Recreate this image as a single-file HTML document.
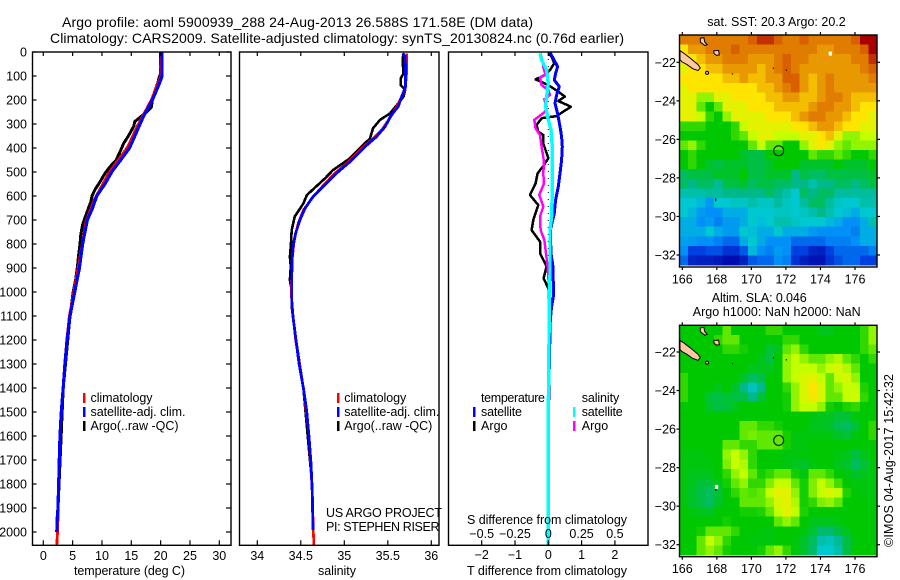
<!DOCTYPE html>
<html><head><meta charset="utf-8"><title>Argo profile</title>
<style>
html,body{margin:0;padding:0;background:#fff;width:900px;height:580px;overflow:hidden}
svg{display:block}
text{font-family:"Liberation Sans",sans-serif;font-size:12.5px;fill:#000}
</style></head>
<body>
<svg id="fig" width="900" height="580" viewBox="0 0 900 580" xmlns="http://www.w3.org/2000/svg">
<rect width="900" height="580" fill="#fff"/>
<text x="62" y="27" textLength="471" style="font-size:14px">Argo profile: aoml 5900939_288 24-Aug-2013 26.588S 171.58E (DM data)</text>
<text x="50" y="43" textLength="574" style="font-size:14px">Climatology: CARS2009. Satellite-adjusted climatology: synTS_20130824.nc (0.76d earlier)</text>
<g id="layer-maps"></g>
<g id="layer-series"></g>
<g id="layer-axes"></g>

<text x="74" y="575" textLength="111">temperature (deg C)</text>
<text x="318" y="575" textLength="38">salinity</text>
<text x="467" y="575" textLength="160">T difference from climatology</text>
<text x="467" y="524" textLength="160">S difference from climatology</text>

<g>
<rect x="83" y="393" width="2.5" height="10" fill="#f00"/>
<rect x="83" y="407" width="2.5" height="10" fill="#00f"/>
<rect x="83" y="421" width="2.5" height="10" fill="#000"/>
<text x="90.5" y="402" textLength="62">climatology</text>
<text x="90.5" y="416" textLength="95">satellite-adj. clim.</text>
<text x="90.5" y="430" textLength="88">Argo(..raw -QC)</text>
</g>
<g>
<rect x="337" y="393" width="2.5" height="10" fill="#f00"/>
<rect x="337" y="407" width="2.5" height="10" fill="#00f"/>
<rect x="337" y="421" width="2.5" height="10" fill="#000"/>
<text x="344.3" y="402" textLength="62">climatology</text>
<text x="344.3" y="416" textLength="95">satellite-adj. clim.</text>
<text x="344.3" y="430" textLength="88">Argo(..raw -QC)</text>
</g>
<g>
<text x="481" y="402" textLength="64">temperature</text>
<text x="481" y="416" textLength="41">satellite</text>
<text x="481" y="430" textLength="26.5">Argo</text>
<rect x="473" y="407" width="2.5" height="10" fill="#00f"/>
<rect x="473" y="421" width="2.5" height="10" fill="#000"/>
<text x="581.7" y="402" textLength="37.5">salinity</text>
<text x="581.7" y="416" textLength="41">satellite</text>
<text x="581.7" y="430" textLength="26.5">Argo</text>
<rect x="573" y="407" width="2.5" height="10" fill="#0ff"/>
<rect x="573" y="421" width="2.5" height="10" fill="#f0f"/>
</g>
<text x="326" y="517" textLength="116">US ARGO PROJECT</text>
<text x="326" y="531" textLength="113.5">PI: STEPHEN RISER</text>
<text x="707.3" y="26" textLength="138.4">sat. SST: 20.3 Argo: 20.2</text>
<text x="711.7" y="302" textLength="95">Altim. SLA: 0.046</text>
<text x="692.7" y="316" textLength="168">Argo h1000: NaN h2000: NaN</text>
<text transform="translate(893 547) rotate(-90)" x="0" y="0" textLength="173">©IMOS 04-Aug-2017 15:42:32</text>
</svg>

<script>
// ---------- axis tick labels ----------
const depthTicks = [0,100,200,300,400,500,600,700,800,900,1000,1100,1200,1300,1400,1500,1600,1700,1800,1900,2000];
const temperatureTicks = [0,5,10,15,20,25,30];
const salinityTicks = [34,34.5,35,35.5,36];
const tDiffTicks = [-2,-1,0,1,2];
const sDiffTicks = [-0.5,-0.25,0,0.25,0.5];
const lonTicks = [166,168,170,172,174,176];
const latTicks = [-22,-24,-26,-28,-30,-32];

// ---------- temperature panel (deg C) ----------
const tempSatDepth = [0,100,130,200,270,300,400,450,500,550,600,650,700,800,900,1000,1100,1200,1300,1400,1500,1600,1700,1800,1900,1950,2000];
const tempSat = [20.2,20.25,19.8,18.6,17.05,16.5,14.7,13.2,11.65,10.5,9.1,8.4,7.5,6.7,6.15,5.35,4.55,4.05,3.7,3.4,3.07,2.85,2.73,2.62,2.5,2.35,2.3];
const tempClimDepth = [0,60,100,200,310,395,505,615,705,840,1000,1100,1200,1300,1400,1500,1600,1700,1800,1900,1950,2000,2055];
const tempClim = [20.15,20.0,20.05,18.4,16.0,14.4,11.15,8.7,7.3,6.35,5.2,4.45,4.0,3.65,3.37,3.05,2.85,2.73,2.62,2.52,2.48,2.42,2.3];
const tempArgoDepth = [0,50,90,110,130,170,200,230,250,270,290,310,350,380,420,450,480,510,540,570,600,625,650,690,720,760,800,850,900,950,1000,1100,1400,1900];
const tempArgo = [20.0,20.0,20.0,19.7,19.5,18.9,18.6,18.4,17.6,16.6,15.6,15.4,14.5,13.7,13.0,12.4,11.3,10.4,9.7,8.9,8.3,8.1,7.7,7.1,6.7,6.4,6.25,6.0,5.8,5.5,5.1,4.55,3.4,2.5];

// ---------- salinity panel ----------
const salSatDepth = [6,19,89,144,186,228,262,311,353,394,457,512,561,603,651,700,756,811,867,950,1033,1103,1200,1300,1400,1492,1603,1714,1839,1992];
const salSat = [35.67,35.70,35.705,35.705,35.66,35.62,35.54,35.47,35.37,35.24,35.065,34.89,34.76,34.64,34.55,34.49,34.44,34.41,34.40,34.395,34.395,34.41,34.445,34.48,34.53,34.567,34.594,34.617,34.632,34.64];
const salClimDepth = [6,89,158,200,256,325,367,408,457,506,547,596,658,714,783,867,1006,1061,1200,1400,1600,1840,2000,2055];
const salClim = [35.72,35.716,35.70,35.64,35.56,35.43,35.31,35.18,35.05,34.89,34.78,34.66,34.53,34.47,34.425,34.40,34.39,34.40,34.44,34.53,34.594,34.632,34.645,34.65];
const salArgoDepth = [6,33,89,110,138,158,186,214,256,283,318,360,401,447,492,526,596,631,686,742,811,853,894,950,992,1061,1200,1400,1800];
const salArgo = [35.68,35.67,35.68,35.65,35.65,35.70,35.68,35.62,35.525,35.41,35.33,35.295,35.18,35.05,34.87,34.78,34.57,34.53,34.43,34.395,34.385,34.375,34.385,34.375,34.395,34.395,34.445,34.53,34.63];

// ---------- difference panel ----------
const dTSatDepth = [3,19,61,89,117,144,179,214,256,311,353,394,450,506,561,617,672,707,742,839,894,964,1019,1061,1117,1300,1450];
const dTSat = [0.05,0.12,0.28,0.22,0.18,0.33,0.25,0.20,0.28,0.35,0.40,0.42,0.40,0.35,0.30,0.22,0.18,0.12,0.06,0.08,0.14,0.15,0.15,0.10,0.06,0.03,0.02];
const dTArgoDepth = [6,19,47,75,96,114,138,165,186,204,228,267,276,304,332,346,381,443,475,506,547,596,638,700,742,790,839,894,943,985,1033,1100,1200,1400,1950];
const dTArgo = [0,0.10,0.18,0.05,-0.10,-0.38,0,0.30,0.50,0.30,0.68,0.25,-0.20,-0.35,-0.30,-0.15,-0.15,0,-0.15,-0.32,-0.38,-0.55,-0.30,-0.45,-0.50,-0.25,-0.25,-0.05,-0.14,0,0.06,0.04,0.02,0,0];
const dSArgoDepth = [6,33,68,96,106,138,158,179,197,228,249,283,318,346,394,457,506,547,596,644,686,742,783,839,894,978,1100,1950];
const dSArgo = [-0.058,-0.045,-0.035,-0.02,-0.0625,-0.05,0,0.0125,-0.03,-0.0125,-0.025,-0.105,-0.095,-0.0625,-0.05,-0.0325,-0.0375,-0.0325,-0.0675,-0.0375,-0.0625,-0.0575,-0.03,-0.0175,-0.005,0.005,0.002,0];
const dSSatDepth = [6,33,75,131,186,228,283,325,394,478,575,686,742,922,1061,1200,1500,2055];
const dSSat = [-0.0625,-0.05,-0.0125,0,-0.0125,-0.02,0,0.02,0.03,0.03,0.03,0.025,0.0125,0.0125,0.0075,0.005,0,0];

// ---------- SST map, colour level per cell ----------
const sstGrid = [
[9.5,9.5,9.5,9.5,9.5,9.5,9.5,9.5,10,10.5,10.5,10,9.5,9.5,10,9.5,9.5,9.5,9.5,9.5,10,11,11],
[8,9,9,9.5,9.5,9.5,10,9.5,9.5,9.5,9.5,9.5,9.5,9.5,9.5,9.5,9,9,9.5,9.5,9.5,10,11],
[8,8,8.5,9,9,9.5,9.5,9.5,9,9,9,9.5,10,9.5,9.5,9,9,9,9,9,9.5,9.5,10.5],
[7.5,8,8,8.5,8.5,9,9,9,9,8.5,9,9.5,10,9.5,9,9,9,9,9,9,9,9.5,10],
[8,8,8,8,8,8.5,8.5,9,8.5,8.5,9,9,10,10,9,8.5,9,9.5,9,9,9,9,9.5],
[7.5,8,8,8,8,8,8,8,8,8.5,8.5,9,9.5,10,9,8.5,9,9.5,9,9,9,9,9],
[7.5,7.5,6.5,6.5,7.5,7.5,8,8,8,8,8.5,8.5,9,9,8.5,8.5,9,9.5,9.5,9,8.5,8.5,8.5],
[7.5,7.5,6,5,6,7.5,7.5,7.5,8,8,8,8.5,8.5,8.5,8.5,9,9.5,9.5,9,9,8.5,8,8],
[7.5,7.5,7,5.5,5,6.5,7.5,7.5,7.5,7.5,8,8,8,8.5,9,9.5,9.5,9,9,8.5,8,8,7.5],
[5.5,5.5,5.5,5,5,5,5.5,7,7.5,7.5,7.5,7.5,7.5,8,8,8.5,9,9,8.5,8,8,7.5,7.5],
[5,5,5,5,5,5,5.5,6,7,7.5,7.5,7,7,7,7.5,7.5,8,8.5,7.5,6.5,6.5,7,7],
[6,6.5,5.5,5,5,5,5,5,6,7,6,6,5,5,6.5,7.5,8,7.5,6.5,6,6.5,6.5,6.5],
[5,5.5,5,5,5,5,5,4.7,4.5,4.5,5,5,5,5,5,6,5.5,5.5,6,5.5,5,5,5.5],
[5,5.5,5,4.7,4.5,4.7,4.7,4.7,4.5,4.5,4.7,5,5,5,4.7,4.7,4.7,4.7,5,4.7,4.7,4.7,5],
[4.3,4.5,4.5,4.5,4.7,4.7,4.7,5,4.5,4.5,4.7,4.7,4.7,4,4.5,4.3,4.3,4.5,4.5,4.5,4.5,4.5,4.7],
[4.3,4,4.3,4.3,3.8,4.5,4.5,4.7,4.3,4.5,4.5,4.3,4.3,4,4,3.5,4,4,4.3,4.3,4,4.3,4.5],
[3.5,3.5,3.5,3.7,3.7,4,4,4,4,4,4.3,4,3.5,3,4.3,4,4.3,4.3,3.7,3.7,3.7,3.7,3.7],
[3,3,2.7,2.2,3,3,3.2,3.2,3.5,3.2,3.2,3.7,3.2,3,3.7,4.3,4.3,3.7,3.2,3,3,3.5,3.5],
[3,2.7,2.2,2,2,2.5,2.5,2.5,3,3,3,3.2,3.2,3,3.2,3.5,4,3.5,3,2.8,2.5,3,3],
[2.5,2.5,2,2.2,1.8,2.2,2.2,2.5,3,2.8,3,3.5,3.5,3.2,3,3,3,2.7,2.5,2,2,2.5,3.5],
[2.5,2.5,2.5,3,2.5,2.2,2.2,3,2.8,2.5,2.5,3,2.5,2.5,2.5,2.2,2,2,2,2,1.8,2.5,2.5],
[2.3,2.2,2,2,1.8,1.5,1.5,2.5,3,2.5,2,2,2,1.5,1.5,1.5,1.5,1.8,1.8,1.8,2,2.5,2.5],
[2,1,1,1.2,1.2,0.8,0.8,1.3,2.7,2,1.8,2.2,2,1,1,0.6,0.5,1,1.5,1.5,1.5,1.5,1.8],
[1.5,0.6,0.5,0.5,0.4,0.2,0.2,0.5,1.3,1.5,1.5,2,1.8,0.8,0.5,0.3,0.3,0.8,1.2,1.5,1.5,1,1]
];
// ---------- SLA map, colour level per cell ----------
const slaGrid = [
[5,5,5,5,5,6,5,5,5,5,5.5,5.5,5,5,5,5,4.8,4.8,5,5,5,5.5,6.5],
[5,5,5,5,5.5,6,6,5,5,5,5,5,5.5,5.5,5,5,5,5,5,5,5,5.5,6.5],
[5,5,5,5,5,5.5,5.5,5.2,5,5,4.6,4.8,6,6.5,5.5,5,5,5,5,5,5,5.5,6],
[5,5,5,5,5,5,5,5,5,4.8,4.5,5,6.5,7,6.5,6,6,6.5,6.8,6,5.5,5,5.5],
[5,5,5,5,5,5,5,5,4.8,4.8,4.8,5,6.5,7,7,7,6.5,7,7.3,6.8,6,5,5],
[5.5,5,5,5,5,5,5,4.7,4.3,4.5,5,5,6.5,7,7.3,7.5,7,6,7,7.3,6.5,5,5],
[5.5,5,5,5,4.8,5,4.7,4,3.3,4,5,5,5.5,6.5,7.3,8,7.3,6,6.5,7,7,5.3,5],
[5.5,5,5,4.6,4.5,4.6,4.5,4.5,4,4.6,5,5,5.2,6.5,7.3,7.8,7.3,6,6,7,7.2,5.5,5],
[5,5,5,4.7,4.5,4.6,4.8,5,5,5,5,5,5.2,6.5,7,7,6.5,5.2,5,5.3,5.5,5,5],
[5,5,5,5,5,5,5,5,5,5,5,5,5,5,5,4.9,4.8,4.8,4.6,4.6,4.9,5,5],
[5,5,5,5,5,5,5,6,6,5.5,5.5,5.2,5,5,5,4.8,4.8,4.7,4.4,4.3,4.6,5,5.5],
[5,5,5,5,5,5,5,6,6.2,6,6,6,5.2,4.9,4.9,4.9,4.9,4.9,4.7,4.6,4.9,5,5.5],
[5,5,5,5,5,6,6,5.5,5.5,6,6,6,5.2,4.9,4.9,5,5,5,5,5,5,5,5],
[4.9,4.9,4.9,5,5,6.5,7,6.5,5.5,5,5,5,4.9,4.9,4.9,5,5,5,4.9,4.8,4.5,4.8,5],
[4.9,4.9,4.9,4.9,5,6.3,7,6.8,5.5,5,5,5,4.9,4.8,4.7,4.9,5,5,4.8,4.7,4.3,4.6,4.9],
[4.9,4.8,4.8,4.8,5,5.5,6.5,7,6,5.2,5.5,6,6,5.2,4.9,6,6,5.5,5,4.9,4.7,4.8,4.9],
[4.9,4.8,4.6,4.6,4.8,5.2,6,6.5,5.5,5.5,6.3,7,7,6,5.2,6.3,7,6.5,5.7,5,4.9,4.9,4.9],
[4.9,4.7,4.5,4.3,4.6,5,5.5,6,5.8,6,7,7.5,7.5,6.5,5.2,6.3,7,7.3,7,5.3,5,4.9,4.9],
[4.9,4.7,4.5,4.3,4.7,5,5,6,6,6,6.5,7.3,7.5,6.8,5.2,5.5,6.3,6.5,6,5,5,5,4.9],
[5,4.9,4.8,4.7,5,5,5,5.2,5.2,5.3,6,7,7.5,7,5.3,5,5,5,5,5,5,5,5],
[5,5,5,5,5,5.2,5,5,5,5,5,6,6.5,6,5,4.8,4.8,4.8,4.9,5,5,5,5],
[5,5,5.2,6,6,6,5.5,5,5,4.9,4.9,5,5,5,4.9,4.6,4.2,4.2,4.5,4.8,5,5,5],
[5,5,6,7,6.5,5.5,5,5,4.9,4.9,4.9,5,5,4.9,4.7,4.3,3.5,3.3,3.8,4.5,4.9,5,5],
[5,5,6,6.5,6,5.2,5,5,5,5.2,6,6.5,5.5,4.9,4.7,4.2,3,3,3.5,4.5,5,5,5]
];
const colourStops = ['#0000a0','#0040e0','#0090f8','#00c8d0','#00b888','#00c800','#60e800','#c4ff00','#ffe400','#e89800','#d86000','#a80000'];

// ---------- map geography (lon, lat) ----------
const caledoniaLon = [165.83,166.08,166.46,166.91,167.04,166.91,166.6,166.27,165.98,165.83];
const caledoniaLat = [-21.40,-21.52,-21.78,-22.12,-22.29,-22.43,-22.33,-22.12,-21.98,-21.87];
const loyaltyLon = [167.04,167.25,167.3,167.45,167.3,167.05];
const loyaltyLat = [-20.75,-20.72,-20.95,-21.08,-21.13,-20.95];
const mareLon = [167.82,168.1,168.14,167.98,167.84];
const mareLat = [-21.4,-21.38,-21.62,-21.64,-21.55];
const islePinesLon = [167.43];
const islePinesLat = [-22.55];
const tinyIslandLon = [168.9,171.27,172.02,167.93];
const tinyIslandLat = [-22.6,-22.3,-22.4,-29.08];
const argoLon = 171.58;
const argoLat = -26.588;

// ---------- scales ----------
const y0 = 52, yPerMetre = 0.24;
const depthY = d => y0 + d * yPerMetre;
const tempX = t => 43.3 + t * 5.867;
const salX = s => 257.3 + (s - 34) * 87;
const dTX = t => 548.3 + t * 33.3;
const dSX = s => 548.3 + s * 133.2;
const lonX = lon => 682.3 + (lon - 166) * 17.27;
const latY = (lat, top) => top + (-22 - lat) * 19.27;

const SVGNS = 'http://www.w3.org/2000/svg';
const mapsLayer = document.getElementById('layer-maps');
const seriesLayer = document.getElementById('layer-series');
const axesLayer = document.getElementById('layer-axes');

function mk(tag, attrs, parent) {
  const el = document.createElementNS(SVGNS, tag);
  for (const k in attrs) el.setAttribute(k, attrs[k]);
  parent.appendChild(el);
  return el;
}
function drawProfile(label, depths, values, xFn, colour, width) {
  const pts = depths.map((d, i) => xFn(values[i]).toFixed(1) + ',' + depthY(d).toFixed(1)).join(' ');
  const el = mk('polyline', {points: pts, fill: 'none', stroke: colour, 'stroke-width': width, 'shape-rendering': 'crispEdges', 'stroke-linejoin': 'round'}, seriesLayer);
  
  
}
function frame(label, x0, x1, yTop, yBot) {
  const el = mk('rect', {x: x0, y: yTop, width: x1 - x0, height: yBot - yTop, fill: 'none', stroke: '#000', 'stroke-width': 1.4}, axesLayer);
  
  
}
function tick(x1, y1, x2, y2) {
  const el = mk('line', {x1, y1, x2, y2, stroke: '#000', 'stroke-width': 1.2}, axesLayer);
  
  
}
function label(txt, x, y, anchor) {
  const el = mk('text', {x, y, 'text-anchor': anchor}, axesLayer);
  el.textContent = txt;
  
  
}

// ---------- profile panels ----------
const yBottom = 545.3;
drawProfile('temperature-argo-line', tempArgoDepth, tempArgo, tempX, '#000', 3);
drawProfile('temperature-climatology-line', tempClimDepth, tempClim, tempX, '#f00', 2.8);
drawProfile('temperature-satellite-line', tempSatDepth, tempSat, tempX, '#00f', 3.2);
drawProfile('salinity-argo-line', salArgoDepth, salArgo, salX, '#000', 2.6);
drawProfile('salinity-climatology-line', salClimDepth, salClim, salX, '#f00', 2.6);
drawProfile('salinity-satellite-line', salSatDepth, salSat, salX, '#00f', 2.8);

const zeroLine = mk('line', {x1: dTX(0), y1: y0, x2: dTX(0), y2: yBottom, stroke: '#000', 'stroke-width': 1, 'stroke-dasharray': '1 6'}, seriesLayer);


drawProfile('t-difference-argo-line', dTArgoDepth, dTArgo, dTX, '#000', 2.5);
drawProfile('t-difference-satellite-line', dTSatDepth, dTSat, dTX, '#00f', 3);
drawProfile('s-difference-argo-line', dSArgoDepth, dSArgo, dSX, '#f0f', 2.5);
drawProfile('s-difference-satellite-line', dSSatDepth, dSSat, dSX, '#0ff', 3.4);

frame('temperature-panel-frame', 32.5, 231, y0, yBottom);
frame('salinity-panel-frame', 239.5, 439, y0, yBottom);
frame('difference-panel-frame', 448.5, 648, y0, yBottom);

depthTicks.forEach(d => {
  const y = depthY(d);
  tick(32.5, y, 36.5, y);
  tick(231, y, 226, y);
  label(String(d), 27, y + 4.5, 'end');
});
temperatureTicks.forEach(t => {
  const x = tempX(t);
  tick(x, y0, x, y0 + 4);
  tick(x, yBottom, x, yBottom - 5);
  label(String(t), x, 560, 'middle');
});
salinityTicks.forEach(s => {
  const x = salX(s);
  tick(x, y0, x, y0 + 4);
  tick(x, yBottom, x, yBottom - 5);
  label(String(s), x, 560, 'middle');
});
tDiffTicks.forEach(t => {
  const x = dTX(t);
  tick(x, y0, x, y0 + 4);
  label(t < 0 ? '\u2212' + (-t) : String(t), x, 559, 'middle');
});
sDiffTicks.forEach(s => {
  const x = dSX(s);
  tick(x, yBottom, x, yBottom - 5);
  label(s < 0 ? '\u2212' + (-s) : String(s), x, 538, 'middle');
});

// ---------- maps ----------
function hexToRgb(h) { return [1, 3, 5].map(i => parseInt(h.substr(i, 2), 16)); }
function levelColour(v) {
  const i = Math.min(Math.floor(v), colourStops.length - 2), f = v - i;
  const a = hexToRgb(colourStops[i]), b = hexToRgb(colourStops[i + 1]);
  return 'rgb(' + a.map((c, k) => Math.round(c + (b[k] - c) * f)).join(',') + ')';
}
function drawMap(prefix, grid, cellTop, cellBot, frameBot, top, frameTop, whiteLon, whiteLat) {
  const x0 = 679.5, x1 = 877;
  const cw = (x1 - x0) / grid[0].length, ch = (cellBot - cellTop) / grid.length;
  grid.forEach((row, r) => row.forEach((v, c) => {
    const cell = mk('rect', {x: (x0 + c * cw).toFixed(2), y: (cellTop + r * ch).toFixed(2), width: (cw + 0.6).toFixed(2), height: (ch + 0.6).toFixed(2), fill: levelColour(v), 'shape-rendering': 'crispEdges'}, mapsLayer);
    
    
  }));
  [[caledoniaLon, caledoniaLat, 'new-caledonia'], [loyaltyLon, loyaltyLat, 'loyalty-island'], [mareLon, mareLat, 'mare-island']].forEach(s => {
    const pts = s[0].map((lon, i) => Math.max(lonX(lon), 680).toFixed(1) + ',' + latY(s[1][i], top).toFixed(1)).join(' ');
    const land = mk('polygon', {points: pts, fill: '#ffc8a0', stroke: '#000', 'stroke-width': 1}, mapsLayer);
    
    
  });
  islePinesLon.forEach((lon, i) => {
    const isle = mk('circle', {cx: lonX(lon), cy: latY(islePinesLat[i], top), r: 1.5, fill: '#ffc8a0', stroke: '#000', 'stroke-width': 1}, mapsLayer);
    
    
  });
  tinyIslandLon.forEach((lon, i) => {
    const dot = mk('rect', {x: lonX(lon) - 0.5, y: latY(tinyIslandLat[i], top) - 0.5, width: 1.2, height: i === 3 ? 3 : 1.2, fill: '#000'}, mapsLayer);
    
    
  });
  const gap = mk('rect', {x: lonX(whiteLon) - 1.6, y: latY(whiteLat, top) - 2, width: 3.3, height: 4, fill: '#fff'}, mapsLayer);
  
  
  const argo = mk('circle', {cx: lonX(argoLon), cy: latY(argoLat, top), r: 5, fill: 'none', stroke: '#000', 'stroke-width': 1}, mapsLayer);
  
  

  frame(prefix + '-frame', x0, x1, frameTop, frameBot);
  lonTicks.forEach(lon => {
    const x = lonX(lon);
    tick(x, frameTop, x, frameTop - 3);
    tick(x, frameBot, x, frameBot + 3);
    label(String(lon), x, frameBot + 16.5, 'middle');
  });
  latTicks.forEach(lat => {
    const y = latY(lat, top);
    tick(x0, y, x0 - 3, y);
    tick(x1, y, x1 + 3, y);
    label('\u2212' + (-lat), 676, y + 4.5, 'end');
  });
}
drawMap('sst-map', sstGrid, 35, 265, 267, 62.3, 35, 174.57, -21.55);
drawMap('sla-map', slaGrid, 325.3, 555, 556.7, 352, 325.3, 167.98, -29.0);
</script>
</body></html>
